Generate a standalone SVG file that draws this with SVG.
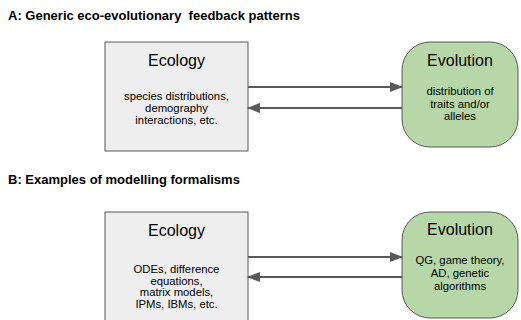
<svg xmlns="http://www.w3.org/2000/svg" width="521" height="320" viewBox="0 0 521 320">
<defs>
<marker id="ah" markerWidth="13" markerHeight="10" refX="12" refY="5" orient="auto" markerUnits="userSpaceOnUse">
<path d="M0,0 L13,5 L0,10 Z" fill="#595959"/>
</marker>
<style>
.title{font-family:"Liberation Sans",Arial,sans-serif;font-weight:bold;font-size:13px;fill:#000}
.eco{fill:#eeeeee;stroke:#595959;stroke-width:1}
.evo{fill:#b7d7a8;stroke:#595959;stroke-width:1}
.head{font-family:"Liberation Sans",Arial,sans-serif;font-size:16px;fill:#000;text-anchor:middle}
.body{font-family:"Liberation Sans",Arial,sans-serif;font-size:11.3px;fill:#000;text-anchor:middle}
.conn{stroke:#595959;stroke-width:2;fill:none;marker-end:url(#ah)}
</style>
</defs>
<text class="title" x="8" y="20" xml:space="preserve">A: Generic eco-evolutionary  feedback patterns</text>
<text class="title" x="8" y="184">B: Examples of modelling formalisms</text>
<g id="ecologyA">
<rect class="eco" x="105" y="42" width="143" height="109"/>
<text class="head" x="176.5" y="66">Ecology</text>
<text class="body" x="176.5" y="100">species distributions,</text>
<text class="body" x="176.5" y="112">demography</text>
<text class="body" x="176.5" y="124">interactions, etc.</text>
</g>
<g id="evolutionA">
<rect class="evo" x="402" y="42" width="116" height="105" rx="28" ry="28"/>
<text class="head" x="460" y="66">Evolution</text>
<text class="body" x="460" y="95">distribution of</text>
<text class="body" x="460" y="107.5">traits and/or</text>
<text class="body" x="460" y="120">alleles</text>
</g>
<g id="ecologyB">
<rect class="eco" x="105" y="212" width="143" height="112"/>
<text class="head" x="176.5" y="236">Ecology</text>
<text class="body" x="176.5" y="273">ODEs, difference</text>
<text class="body" x="176.5" y="284.5">equations,</text>
<text class="body" x="176.5" y="296">matrix models,</text>
<text class="body" x="176.5" y="307.5">IPMs, IBMs, etc.</text>
</g>
<g id="evolutionB">
<rect class="evo" x="402" y="212" width="116" height="106" rx="28" ry="28"/>
<text class="head" x="460" y="235">Evolution</text>
<text class="body" x="460" y="264">QG, game theory,</text>
<text class="body" x="460" y="277">AD, genetic</text>
<text class="body" x="460" y="290">algorithms</text>
</g>
<g id="connectors">
<line class="conn" x1="248" y1="87" x2="402" y2="87"/>
<line class="conn" x1="402" y1="108" x2="248" y2="108"/>
<line class="conn" x1="248" y1="257" x2="402" y2="257"/>
<line class="conn" x1="402" y1="277" x2="248" y2="277"/>
</g>
</svg>
